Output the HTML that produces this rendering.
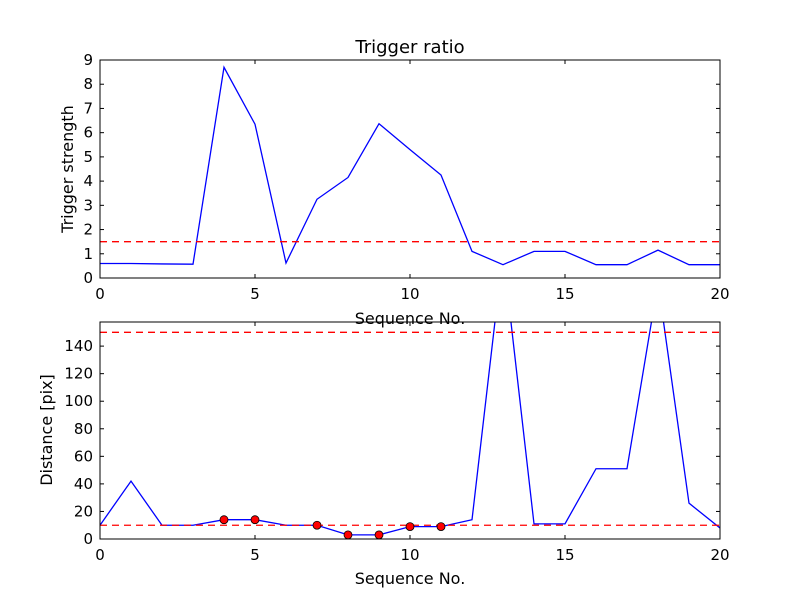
<!DOCTYPE html>
<html><head><meta charset="utf-8"><style>
body{margin:0;background:#fff;font-family:"Liberation Sans","DejaVu Sans",sans-serif}
svg text{font-family:"DejaVu Sans","Liberation Sans",sans-serif}
</style></head><body>
<svg id="c" width="800" height="600" xmlns="http://www.w3.org/2000/svg"></svg>
<script>
const xs=[0,1,2,3,4,5,6,7,8,9,10,11,12,13,14,15,16,17,18,19,20];
const ratioVals=[0.6,0.6,0.58,0.57,8.7,6.35,0.62,3.25,4.15,6.37,5.3,4.25,1.1,0.55,1.1,1.1,0.55,0.55,1.15,0.55,0.55];
const ratioThreshold=1.5;
const distVals=[10,42,10,10,14,14,10,10,3,3,9,9,14,208,11,11,51,51,186,26,8];
const distThresholds=[10,150];
const markedIdx=[4,5,7,8,9,10,11];
const xTicks=[0,5,10,15,20];
const yTicksTop=[0,1,2,3,4,5,6,7,8,9];
const yTicksBot=[0,20,40,60,80,100,120,140];
const NS="http://www.w3.org/2000/svg";
const svg=document.getElementById('c');
function el(t,a,p){const e=document.createElementNS(NS,t);for(const k in a)e.setAttribute(k,a[k]);(p||svg).appendChild(e);return e;}
function panel(top,bot,ymax,yTicks,name,ylabel){
  const L=100,R=720;
  const sx=v=>L+(v-0)/20*(R-L);
  const sy=v=>bot-v/ymax*(bot-top);
  const g=el('g',{});
  
  
  const cid='clip'+name;
  const cp=el('clipPath',{id:cid},g);el('rect',{x:L,y:top,width:R-L,height:bot-top},cp);
  return {L,R,top,bot,sx,sy,g,cid,ylabel,yTicks};
}
function axes(p,xlabelY){
  const {L,R,top,bot,sx,sy,g}=p;
  const fr=el('rect',{x:L,y:top,width:R-L,height:bot-top,fill:'none',stroke:'#000','stroke-width':1},g);
  
  xTicks.forEach(t=>{const x=sx(t);
    el('line',{x1:x,x2:x,y1:bot,y2:bot-4,stroke:'#000'},g);
    el('line',{x1:x,x2:x,y1:top,y2:top+4,stroke:'#000'},g);
    const tx=el('text',{x:x,y:bot+21,'text-anchor':'middle','font-size':15},g);tx.textContent=t;
    });
  p.yTicks.forEach(t=>{const y=sy(t);
    el('line',{x1:L,x2:L+4,y1:y,y2:y,stroke:'#000'},g);
    el('line',{x1:R,x2:R-4,y1:y,y2:y,stroke:'#000'},g);
    const tx=el('text',{x:L-7,y:y+5,'text-anchor':'end','font-size':15},g);tx.textContent=t;
    });
  const xl=el('text',{x:(L+R)/2,y:xlabelY,'text-anchor':'middle','font-size':16},g);xl.textContent='Sequence No.';
  
}
function series(p,vals,name){
  const pts=vals.map((v,i)=>p.sx(xs[i])+','+p.sy(v)).join(' ');
  const l=el('polyline',{points:pts,fill:'none',stroke:'#0000ff','stroke-width':1.3,'clip-path':'url(#'+p.cid+')'},p.g);
  
}
function hline(p,v,name){
  const l=el('line',{x1:p.L,x2:p.R,y1:p.sy(v),y2:p.sy(v),stroke:'#ff0000','stroke-width':1.3,'stroke-dasharray':'7,5'},p.g);
  
}
// top
const t=panel(60,278,9,yTicksTop,'top-panel');
series(t,ratioVals,'trigger-strength-line');
hline(t,ratioThreshold,'threshold-line');
axes(t,324);
const yl1=el('text',{x:0,y:0,'text-anchor':'middle','font-size':16,transform:'translate(73,169) rotate(-90)'},t.g);yl1.textContent='Trigger strength';

const ti=el('text',{x:410,y:53,'text-anchor':'middle','font-size':18},t.g);ti.textContent='Trigger ratio';

// bottom
const b=panel(322,539,157.5,yTicksBot,'bottom-panel');
series(b,distVals,'distance-line');
distThresholds.forEach(v=>hline(b,v,'distance-threshold-line'));
markedIdx.forEach(i=>{const c=el('circle',{cx:b.sx(xs[i]),cy:b.sy(distVals[i]),r:4,fill:'#ff0000',stroke:'#000','stroke-width':0.8},b.g);
  });
axes(b,584);
const yl2=el('text',{x:0,y:0,'text-anchor':'middle','font-size':16,transform:'translate(52,430) rotate(-90)'},b.g);yl2.textContent='Distance [pix]';

</script>
</body></html>
